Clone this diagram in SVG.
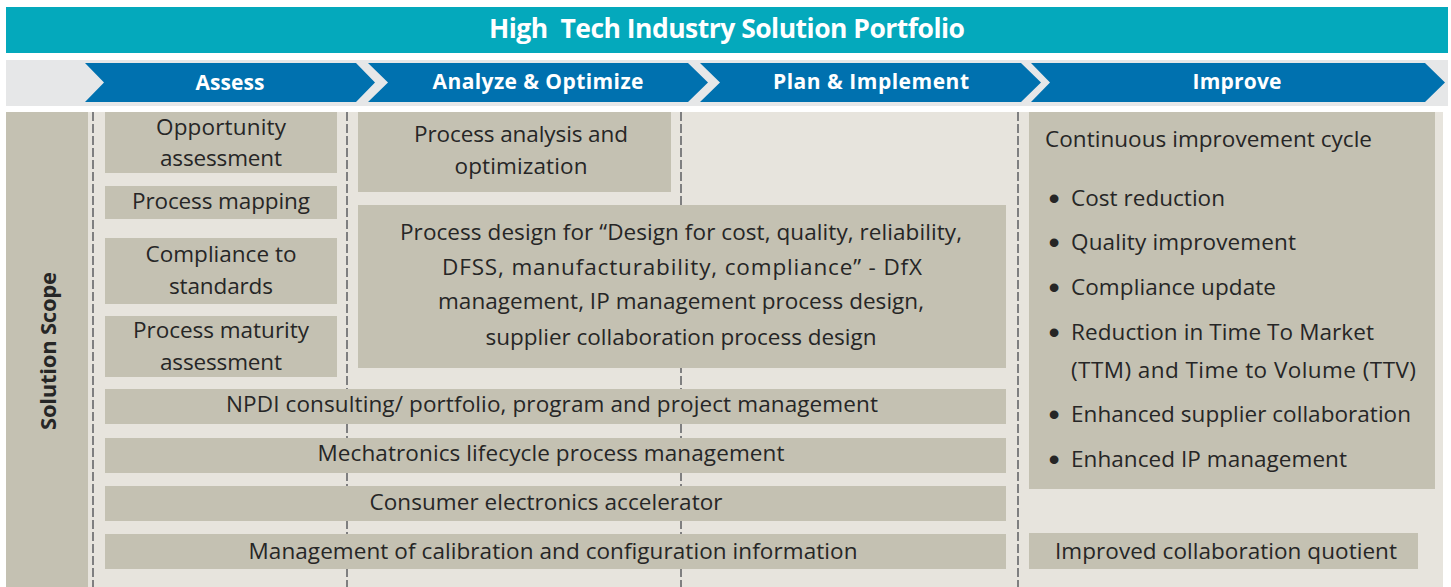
<svg xmlns="http://www.w3.org/2000/svg" width="1451" height="587" viewBox="0 0 1451 587">
<style>
.box{fill:#C4C1B2}
.t{font-family:"Open Sans","Noto Sans",sans-serif;font-size:22.5px;fill:#262626}
.c{text-anchor:middle}
.b{font-family:"Liberation Sans",Arial,sans-serif;font-size:32px;fill:#262626;text-anchor:middle}
.h{font-family:"Open Sans","Noto Sans",sans-serif;font-weight:bold;font-size:21px;fill:#FFFFFF;text-anchor:middle}
.title{font-size:26.5px}
.scope{font-weight:bold;font-size:22px;text-anchor:middle}
.chev{fill:#0071AF}
.dash{stroke:#7F7F80;stroke-width:2;stroke-dasharray:9 3;fill:none}
</style>
<rect width="1451" height="587" fill="#FFFFFF"/>
<g id="title">
<rect x="6" y="7" width="1442" height="46" fill="#04A9BC"/>
<text class="h title" x="727" y="38" textLength="476" xml:space="preserve">High  Tech Industry Solution Portfolio</text>
</g>
<g id="phases">
<rect x="6" y="60" width="1442" height="46" fill="#E6E7E8"/>
<g id="phase-assess">
<polygon class="chev" points="85,63 356,63 375,82.5 356,102 85,102 104,82.5"/>
<text class="h" x="230" y="90" textLength="69">Assess</text>
</g>
<g id="phase-analyze">
<polygon class="chev" points="368,63 688,63 708,82.5 688,102 368,102 388,82.5"/>
<text class="h" x="538" y="89" textLength="211">Analyze &amp; Optimize</text>
</g>
<g id="phase-plan">
<polygon class="chev" points="700,63 1021,63 1041,82.5 1021,102 700,102 720,82.5"/>
<text class="h" x="871" y="89" textLength="196">Plan &amp; Implement</text>
</g>
<g id="phase-improve">
<polygon class="chev" points="1031,63 1425,63 1445,82.5 1425,102 1031,102 1050,82.5"/>
<text class="h" x="1237" y="89" textLength="89">Improve</text>
</g>
</g>
<rect x="6" y="112" width="1437" height="475" fill="#E7E4DD"/>
<g id="solution-scope">
<rect x="6" y="112" width="82" height="475" fill="#C4C1B2"/>
<text class="t scope" x="0" y="0" textLength="158" transform="translate(56,351) rotate(-90)">Solution Scope</text>
</g>
<g id="dividers">
<line class="dash" x1="93" y1="112" x2="93" y2="587"/>
<line class="dash" x1="347" y1="112" x2="347" y2="587"/>
<line class="dash" x1="681" y1="112" x2="681" y2="587"/>
<line class="dash" x1="1018" y1="112" x2="1018" y2="587"/>
</g>
<g id="connectors"></g>
<g id="opportunity-assessment">
<rect class="box" x="105" y="112" width="232" height="61"/>
<text class="t c" x="221" y="135" textLength="130">Opportunity</text>
<text class="t c" x="221" y="166" textLength="122">assessment</text>
</g>
<g id="process-mapping">
<rect class="box" x="105" y="186" width="232" height="33"/>
<text class="t c" x="221" y="209" textLength="178">Process mapping</text>
</g>
<g id="compliance-to-standards">
<rect class="box" x="105" y="238" width="232" height="66"/>
<text class="t c" x="221" y="262" textLength="151">Compliance to</text>
<text class="t c" x="221" y="294" textLength="104">standards</text>
</g>
<g id="process-maturity-assessment">
<rect class="box" x="105" y="316" width="232" height="61"/>
<text class="t c" x="221" y="338" textLength="176">Process maturity</text>
<text class="t c" x="221" y="370" textLength="122">assessment</text>
</g>
<g id="process-analysis">
<rect class="box" x="358" y="112" width="313" height="80"/>
<text class="t c" x="521" y="142" textLength="214">Process analysis and</text>
<text class="t c" x="521" y="174" textLength="133">optimization</text>
</g>
<g id="process-design">
<rect class="box" x="358" y="205" width="648" height="163"/>
<text class="t c" x="681" y="240" textLength="562">Process design for “Design for cost, quality, reliability,</text>
<text class="t c" x="682" y="275" textLength="480">DFSS, manufacturability, compliance” - DfX</text>
<text class="t c" x="681" y="309" textLength="486">management, IP management process design,</text>
<text class="t c" x="681" y="345" textLength="391">supplier collaboration process design</text>
</g>
<g id="npdi">
<rect class="box" x="105" y="389" width="901" height="35"/>
<text class="t c" x="552" y="412" textLength="652">NPDI consulting/ portfolio, program and project management</text>
</g>
<g id="mechatronics">
<rect class="box" x="105" y="438" width="901" height="35"/>
<text class="t c" x="551" y="461" textLength="467">Mechatronics lifecycle process management</text>
</g>
<g id="consumer-electronics">
<rect class="box" x="105" y="486" width="901" height="35"/>
<text class="t c" x="546" y="510" textLength="353">Consumer electronics accelerator</text>
</g>
<g id="calibration">
<rect class="box" x="105" y="534" width="901" height="35"/>
<text class="t c" x="553" y="559" textLength="609">Management of calibration and configuration information</text>
</g>
<g id="continuous-improvement">
<rect class="box" x="1029" y="112" width="406" height="377"/>
<text class="t" x="1045" y="147" textLength="327">Continuous improvement cycle</text>
<text class="b" x="1054" y="209">•</text><text class="t" x="1071" y="206" textLength="154">Cost reduction</text>
<text class="b" x="1054" y="253">•</text><text class="t" x="1071" y="250" textLength="225">Quality improvement</text>
<text class="b" x="1054" y="298">•</text><text class="t" x="1071" y="295" textLength="205">Compliance update</text>
<text class="b" x="1054" y="343">•</text><text class="t" x="1071" y="340" textLength="303">Reduction in Time To Market</text>
<text class="t" x="1071" y="378" textLength="345">(TTM) and Time to Volume (TTV)</text>
<text class="b" x="1054" y="425">•</text><text class="t" x="1071" y="422" textLength="340">Enhanced supplier collaboration</text>
<text class="b" x="1054" y="470">•</text><text class="t" x="1071" y="467" textLength="276">Enhanced IP management</text>
</g>
<g id="collaboration-quotient">
<rect class="box" x="1029" y="533" width="389" height="36"/>
<text class="t c" x="1226" y="559" textLength="342">Improved collaboration quotient</text>
</g>
</svg>
